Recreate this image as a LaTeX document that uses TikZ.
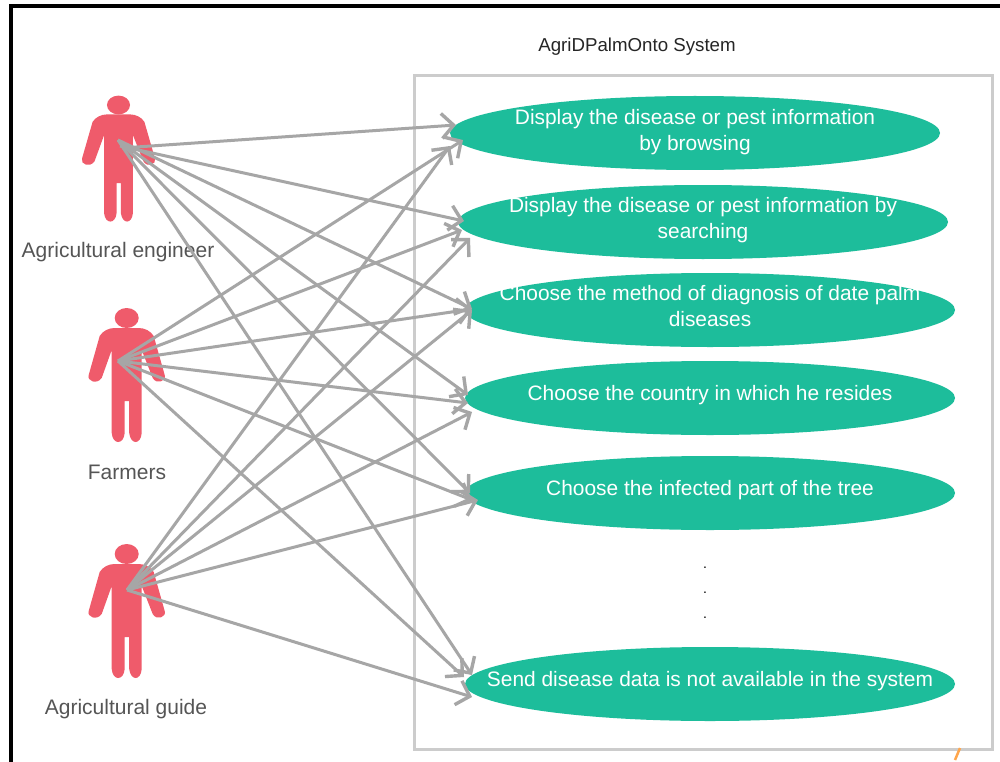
\documentclass[tikz,border=0pt]{standalone}
\usepackage{fontspec}
\setmainfont{Liberation Sans}
\usetikzlibrary{arrows.meta,shapes.geometric}
\definecolor{actorred}{HTML}{EF5B6B}
\definecolor{usegreen}{HTML}{1DBD9B}
\definecolor{linkgray}{HTML}{A6A6A6}
\definecolor{boxgray}{HTML}{CCCCCC}
\definecolor{labelgray}{HTML}{555555}
\newcommand{\uctext}[2]{\raisebox{#1}[0pt][0pt]{\makebox[0pt][c]{\begin{tabular}{@{}c@{}}#2\end{tabular}}}}
\tikzset{
  usecase/.style={ellipse,fill=usegreen,text=white,minimum width=490pt,minimum height=74pt,inner sep=0pt,font=\fontsize{20.9}{26}\selectfont},
  actorname/.style={text=labelgray,font=\fontsize{21}{24}\selectfont,inner sep=0pt},
  link/.style={draw=linkgray,line width=3pt,-{Straight Barb[length=12pt,width=25pt,line width=3.4pt]}},
  actorshape/.pic={
    \fill[actorred] (-27,18) .. controls (-24,13) and (-18,10) .. (-12,10) -- (12,10)
      .. controls (18,10) and (24,13) .. (27,18) -- (38,57)
      .. controls (40,63) and (30,67) .. (26,60) -- (15,32) -- (15,115)
      .. controls (14,127) and (4,127) .. (2.5,115) -- (2.5,83) -- (-2,83) -- (-2,115)
      .. controls (-3,127) and (-14,127) .. (-15,115) -- (-15,32) -- (-25,60)
      .. controls (-30,67) and (-40,63) .. (-38,57) -- cycle;
    \fill[actorred] (0,0) ellipse (12 and 10);
  }
}
\begin{document}
\begin{tikzpicture}[x=1pt,y=-1pt]
\useasboundingbox (0,0) rectangle (1000,762);
\fill[white] (0,0) rectangle (1000,762);
% outer frame
\draw[black,line width=4pt] (10.5,762) -- (10.5,6.5) -- (1000,6.5);
% system box
\node (system) [draw=boxgray,line width=2.6pt,minimum width=578pt,minimum height=674pt,inner sep=0pt,anchor=north west] at (413,74) {};
\node (title) at (637,47) {\fontsize{18.7}{22}\selectfont\textcolor{black!85}{AgriDPalmOnto System}};
% use cases
\node (uc1) [usecase] at (695,133) {\uctext{-4pt}{Display the disease or pest information\\by browsing}};
\node (uc2) [usecase] at (703,222) {\uctext{-3pt}{Display the disease or pest information by\\searching}};
\node (uc3) [usecase] at (710,310) {\uctext{-3pt}{Choose the method of diagnosis of date palm\\diseases}};
\node (uc4) [usecase] at (710,398) {\uctext{-2pt}{Choose the country in which he resides}};
\node (uc5) [usecase] at (710,493) {\uctext{-2pt}{Choose the infected part of the tree}};
\node (uc6) [usecase] at (710,684) {\uctext{-2pt}{Send disease data is not available in the system}};
% ellipsis
\node (d1) at (705,568) {\fontsize{14}{16}\selectfont .};
\node (d2) at (705,593) {\fontsize{14}{16}\selectfont .};
\node (d3) at (705,618) {\fontsize{14}{16}\selectfont .};
% actors
\pic[transform shape,shift={(118.5,105)},yscale=.94,xscale=.96] at (0,0) {actorshape};
\pic[transform shape,shift={(126.7,318)}] at (0,0) {actorshape};
\pic[transform shape,shift={(126.7,554)}] at (0,0) {actorshape};
\node (n1) [actorname] at (118,252.5) {Agricultural engineer};
\node (n2) [actorname] at (127,472) {Farmers};
\node (n3) [actorname] at (126,709) {Agricultural guide};
% connector ends
\coordinate (enga) at (122,148);
\coordinate (engb) at (120,146);
\coordinate (eng) at (118,140);
\coordinate (farm) at (118,361);
\coordinate (guide) at (127,590);
\coordinate (e1a) at (456,125);
\coordinate (e1b) at (463,140);
\coordinate (e1c) at (450,146);
\coordinate (e2a) at (464,221);
\coordinate (e2b) at (462,230);
\coordinate (e2c) at (470,238);
\coordinate (e3a) at (472,309);
\coordinate (e3b) at (472,309);
\coordinate (e3c) at (472,310);
\coordinate (e4a) at (468,395);
\coordinate (e4b) at (468,403);
\coordinate (e4c) at (472,412);
\coordinate (e5a) at (470,493);
\coordinate (e5b) at (472,500);
\coordinate (e5c) at (478,500);
\coordinate (e6a) at (472,675);
\coordinate (e6b) at (464,677);
\coordinate (e6c) at (472,697);
% connectors
\foreach \s/\t in {enga/e1a,engb/e2a,eng/e3a,eng/e4a,eng/e5a,eng/e6a,
                   farm/e1b,farm/e2b,farm/e3b,farm/e4b,farm/e5b,farm/e6b,
                   guide/e1c,guide/e2c,guide/e3c,guide/e4c,guide/e5c,guide/e6c}
  \draw[link] (\s) -- (\t);
% clipped logo fragment
\draw[orange!70,line width=2.5pt] (960,748) -- (955,760);
\end{tikzpicture}
\end{document}
